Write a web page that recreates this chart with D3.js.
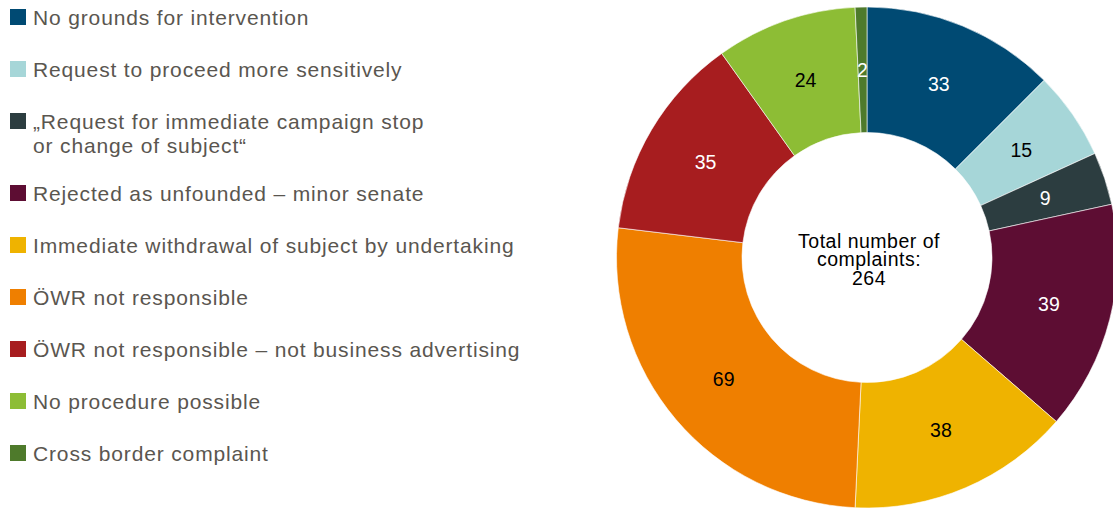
<!DOCTYPE html>
<html>
<head>
<meta charset="utf-8">
<script src="https://cdn.jsdelivr.net/npm/d3@7"></script>
<style>
  html, body { margin: 0; padding: 0; background: #ffffff; }
  svg { display: block; }
  text { font-family: "Liberation Sans", Arial, sans-serif; }
</style>
</head>
<body>
<svg id="chart" width="1113" height="510"></svg>
<script>
// Complaint outcomes, clockwise from 12 o'clock
const categories = [
  "No grounds for intervention",
  "Request to proceed more sensitively",
  "„Request for immediate campaign stop\nor change of subject“",
  "Rejected as unfounded – minor senate",
  "Immediate withdrawal of subject by undertaking",
  "ÖWR not responsible",
  "ÖWR not responsible – not business advertising",
  "No procedure possible",
  "Cross border complaint"
];
const values = [33, 15, 9, 39, 38, 69, 35, 24, 2];
const colors = ["#004a73", "#a6d6d8", "#2c3d40", "#5d0d33", "#efb300", "#ef7f00", "#a71d1f", "#8dbd35", "#4e7a2b"];
const labelColors = ["#fff", "#000", "#fff", "#fff", "#000", "#000", "#fff", "#000", "#fff"];
const centerLines = ["Total number of", "complaints:", String(d3.sum(values))];

const svg = d3.select("#chart");

// ---- legend ----
const legend = svg.append("g").attr("class", "legend");
let y = 9;
categories.forEach((name, i) => {
  const lines = name.split("\n");
  const g = legend.append("g").attr("transform", `translate(10,${y})`);
  g.append("rect").attr("width", 16).attr("height", 16).attr("fill", colors[i]);
  const t = g.append("text")
    .attr("x", 23).attr("y", 16)
    .attr("font-size", 21)
    .attr("letter-spacing", 0.85)
    .attr("fill", "#5a5650");
  lines.forEach((ln, k) => {
    t.append("tspan").attr("x", 23).attr("dy", k === 0 ? 0 : 24).text(ln);
  });
  y += 52 + (lines.length - 1) * 20;
});

// ---- donut ----
const cx = 867, cy = 257.5, outerR = 250.5, innerR = 125;
const pie = d3.pie().sort(null).value(d => d)(values);
const arc = d3.arc().innerRadius(innerR).outerRadius(outerR);
const labelArc = d3.arc().innerRadius((innerR + outerR) / 2).outerRadius((innerR + outerR) / 2);

const donut = svg.append("g").attr("transform", `translate(${cx},${cy})`);
donut.selectAll("path.slice")
  .data(pie)
  .join("path")
  .attr("class", "slice")
  .attr("d", arc)
  .attr("fill", (d, i) => colors[i])
  .attr("stroke", "#ffffff")
  .attr("stroke-width", 0.6);

donut.selectAll("text.val")
  .data(pie)
  .join("text")
  .attr("class", "val")
  .attr("transform", d => `translate(${labelArc.centroid(d)})`)
  .attr("text-anchor", "middle")
  .attr("dy", "0.36em")
  .attr("font-size", 19.5)
  .attr("fill", (d, i) => labelColors[i])
  .text(d => d.data);

// centre caption
const cap = donut.append("text")
  .attr("text-anchor", "middle")
  .attr("font-size", 19.5)
  .attr("letter-spacing", 0.5)
  .attr("fill", "#000");
centerLines.forEach((ln, k) => {
  cap.append("tspan").attr("x", 2).attr("y", -10 + k * 18.5).text(ln);
});
</script>
</body>
</html>
